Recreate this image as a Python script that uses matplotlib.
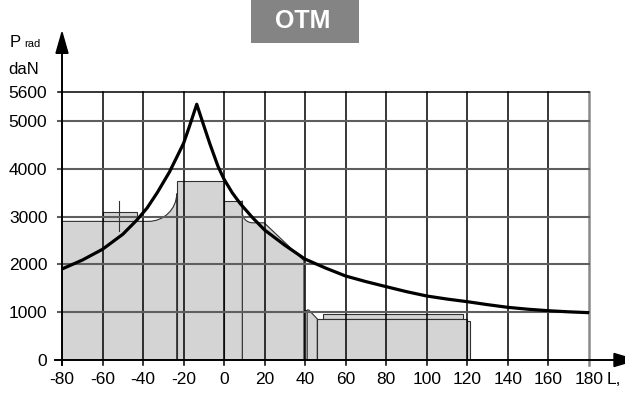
import matplotlib
matplotlib.use("Agg")
import matplotlib.pyplot as plt
from matplotlib.patches import Polygon, Rectangle, PathPatch
from matplotlib.path import Path

plt.rcParams['font.family'] = ['Liberation Sans', 'DejaVu Sans']

# ---------------- data ----------------
x_ticks = [-80, -60, -40, -20, 0, 20, 40, 60, 80, 100, 120, 140, 160, 180]
y_ticks = [0, 1000, 2000, 3000, 4000, 5000, 5600]

# permissible radial load curve
L_curve = [-80, -70, -60, -50, -43, -38, -33, -27, -23.5, -20, -17, -13.5,
           -10, -7, -3, 0, 4, 8, 14, 20, 30, 40, 50, 60, 70, 80, 90, 100,
           110, 120, 130, 140, 150, 160, 170, 180]
P_curve = [1904, 2090, 2316, 2630, 2930, 3180, 3500, 3930, 4230, 4533, 4900, 5350,
           4900, 4520, 4050, 3780, 3500, 3270, 2980, 2720, 2400, 2110, 1925, 1757, 1640, 1534, 1430, 1339,
           1275, 1220, 1158, 1102, 1062, 1031, 1008, 990]

# shaft profile (grey silhouette), outline vertices
left_body_L = [-80, -80, -37.4]
left_body_P = [0, 2900, 2900]
left_fillet_corner = (-23.4, 2900)
left_fillet_end = (-23.4, 3480)

collar_L = [-60, -43.2]
collar_P = [2900, 3090]
mark_L = -51.7
mark_P = [2705, 3333]

mid_rect_L = [-23.4, 0]
mid_rect_P = 3750
step_rect_L = [0, 9]
step_rect_P = 3330

right_fillet_start = (9, 3080)
right_fillet_corner = (9, 2870)
right_fillet_end = (14.2, 2870)
right_body_L = [19.8, 39.4, 39.4]
right_body_P = [2870, 2080, 0]

ring_L = [39.4, 41]
ring_P = 1046
cone_L = [41, 41, 41.8, 46, 46]
cone_P = [0, 1046, 1046, 860, 0]
sleeve_L = [46, 119.7]
sleeve_P = 858
lip_L = [48.9, 118]
lip_P = 956
end_L = [119.7, 121.5]
end_P = 820

FILL = '#d4d4d4'
EDGE = '#303030'

fig = plt.figure(figsize=(6.25, 3.94), dpi=100)
ax = fig.add_axes([62 / 625, 34 / 394, 526.8 / 625, 267.7 / 394])
ax.set_xlim(-80, 180)
ax.set_ylim(0, 5600)
for s in ax.spines.values():
    s.set_visible(False)
ax.set_facecolor('none')

px_x = 260 / 526.8      # data units per pixel (x)
px_y = 5600 / 267.7     # data units per pixel (y)


def fillet_path(start, corner, end):
    k = 0.552
    c1 = (start[0] + k * (corner[0] - start[0]), start[1] + k * (corner[1] - start[1]))
    c2 = (end[0] + k * (corner[0] - end[0]), end[1] + k * (corner[1] - end[1]))
    return [c1, c2, end]


def add_patch(verts, codes=None):
    if codes is None:
        p = Polygon(verts, closed=True, facecolor=FILL, edgecolor=EDGE, lw=0.8, zorder=1)
    else:
        p = PathPatch(Path(verts, codes), facecolor=FILL, edgecolor=EDGE, lw=0.8, zorder=1)
    ax.add_patch(p)


# left body with fillet
v = list(zip(left_body_L, left_body_P))
c = [Path.MOVETO, Path.LINETO, Path.LINETO]
v += fillet_path(v[-1], left_fillet_corner, left_fillet_end)
c += [Path.CURVE4] * 3
v += [(left_fillet_end[0], 0), (left_body_L[0], 0)]
c += [Path.LINETO, Path.CLOSEPOLY]
add_patch(v, c)

# collar
add_patch([(collar_L[0], collar_P[0]), (collar_L[0], collar_P[1]),
           (collar_L[1], collar_P[1]), (collar_L[1], collar_P[0])])
ax.plot([mark_L, mark_L], mark_P, color=EDGE, lw=0.8, zorder=1.5)

# middle rect, step
add_patch([(mid_rect_L[0], 0), (mid_rect_L[0], mid_rect_P), (mid_rect_L[1], mid_rect_P), (mid_rect_L[1], 0)])
add_patch([(step_rect_L[0], 0), (step_rect_L[0], step_rect_P), (step_rect_L[1], step_rect_P), (step_rect_L[1], 0)])

# right body with fillet and chamfer
v = [(right_fillet_start[0], 0), (right_fillet_start[0], step_rect_P), right_fillet_start]
c = [Path.MOVETO, Path.LINETO, Path.LINETO]
v += fillet_path(right_fillet_start, right_fillet_corner, right_fillet_end)
c += [Path.CURVE4] * 3
v += list(zip(right_body_L, right_body_P))
c += [Path.LINETO] * len(right_body_L)
v += [(right_fillet_start[0], 0)]
c += [Path.CLOSEPOLY]
add_patch(v, c)

# ring, cone, sleeve
add_patch([(ring_L[0], 0), (ring_L[0], ring_P), (ring_L[1], ring_P), (ring_L[1], 0)])
add_patch(list(zip(cone_L, cone_P)))
add_patch([(lip_L[0], sleeve_P), (lip_L[0], lip_P), (lip_L[1], lip_P), (lip_L[1], sleeve_P)])
add_patch([(sleeve_L[0], 0), (sleeve_L[0], sleeve_P), (sleeve_L[1], sleeve_P), (sleeve_L[1], 0)])
add_patch([(end_L[0], 0), (end_L[0], end_P), (end_L[1], end_P), (end_L[1], 0)])

# grid
tick_out_y = 5 * px_y
tick_out_x = 4.3 * px_x
for xv in x_ticks[1:-1]:
    ax.plot([xv, xv], [-tick_out_y, y_ticks[-1]], color='black', lw=1.1, zorder=2, clip_on=False)
ax.plot([x_ticks[-1]] * 2, [-tick_out_y, y_ticks[-1]], color='#8a8a8a', lw=1.8, zorder=2, clip_on=False)
for yv in y_ticks[1:-1]:
    ax.plot([x_ticks[0] - tick_out_x, x_ticks[-1]], [yv, yv], color='#5e5e5e', lw=1.5, zorder=2, clip_on=False)
ax.plot([x_ticks[0] - tick_out_x, x_ticks[-1]], [y_ticks[-1]] * 2, color='black', lw=1.1, zorder=2, clip_on=False)

# axes with arrows
x_arrow_base = x_ticks[0] + (614 - 62) * px_x
x_arrow_tip = x_ticks[0] + (636 - 62) * px_x
y_arrow_base = (360 - 53.3) * px_y
y_arrow_tip = (360 - 32.3) * px_y
ax.plot([x_ticks[0] - 7 * px_x, x_arrow_base], [0, 0], color='black', lw=1.4, zorder=3, clip_on=False)
ax.plot([x_ticks[0], x_ticks[0]], [-tick_out_y, y_arrow_base], color='black', lw=1.4, zorder=3, clip_on=False)
ax.add_patch(Polygon([(x_arrow_base, -6.5 * px_y), (x_arrow_tip, 0), (x_arrow_base, 6.5 * px_y)],
                     closed=True, color='black', zorder=3, clip_on=False))
ax.add_patch(Polygon([(x_ticks[0] - 6 * px_x, y_arrow_base), (x_ticks[0], y_arrow_tip),
                      (x_ticks[0] + 6 * px_x, y_arrow_base)],
                     closed=True, color='black', zorder=3, clip_on=False))

# curve
ax.plot(L_curve, P_curve, color='black', lw=2.3, zorder=4, solid_joinstyle='round')

# tick labels
ax.set_xticks(x_ticks)
ax.set_xticklabels([str(v) for v in x_ticks], fontsize=12.5)
ax.set_yticks(y_ticks)
ax.set_yticklabels([str(v) for v in y_ticks], fontsize=12.5)
ax.tick_params(axis='x', length=0, pad=9)
ax.tick_params(axis='y', length=0, pad=10.5)

ax.text(x_ticks[0] + (606.7 - 62) * px_x, -(372.5 - 360) * px_y, "L,", fontsize=12.5,
        ha='left', va='top', clip_on=False)

# axis title
ax.text(x_ticks[0] + (10 - 62) * px_x, (360 - 46.7) * px_y, "P", fontsize=12,
        ha='left', va='baseline')
ax.text(x_ticks[0] + (24.5 - 62) * px_x, (360 - 46.7) * px_y, "rad", fontsize=8,
        ha='left', va='baseline')
ax.text(x_ticks[0] + (8 - 62) * px_x, (360 - 74.3) * px_y, "daN", fontsize=12,
        ha='left', va='baseline')

# OTM badge
fig.patches.append(Rectangle((251 / 625, 1 - 43 / 394), 108 / 625, 43 / 394,
                             transform=fig.transFigure, facecolor='#848484', edgecolor='none'))
fig.text(303 / 625, 1 - 21.5 / 394, "OTM", color='white', fontsize=18, fontweight='bold',
         ha='center', va='center')

fig.savefig("out.png", dpi=100)
